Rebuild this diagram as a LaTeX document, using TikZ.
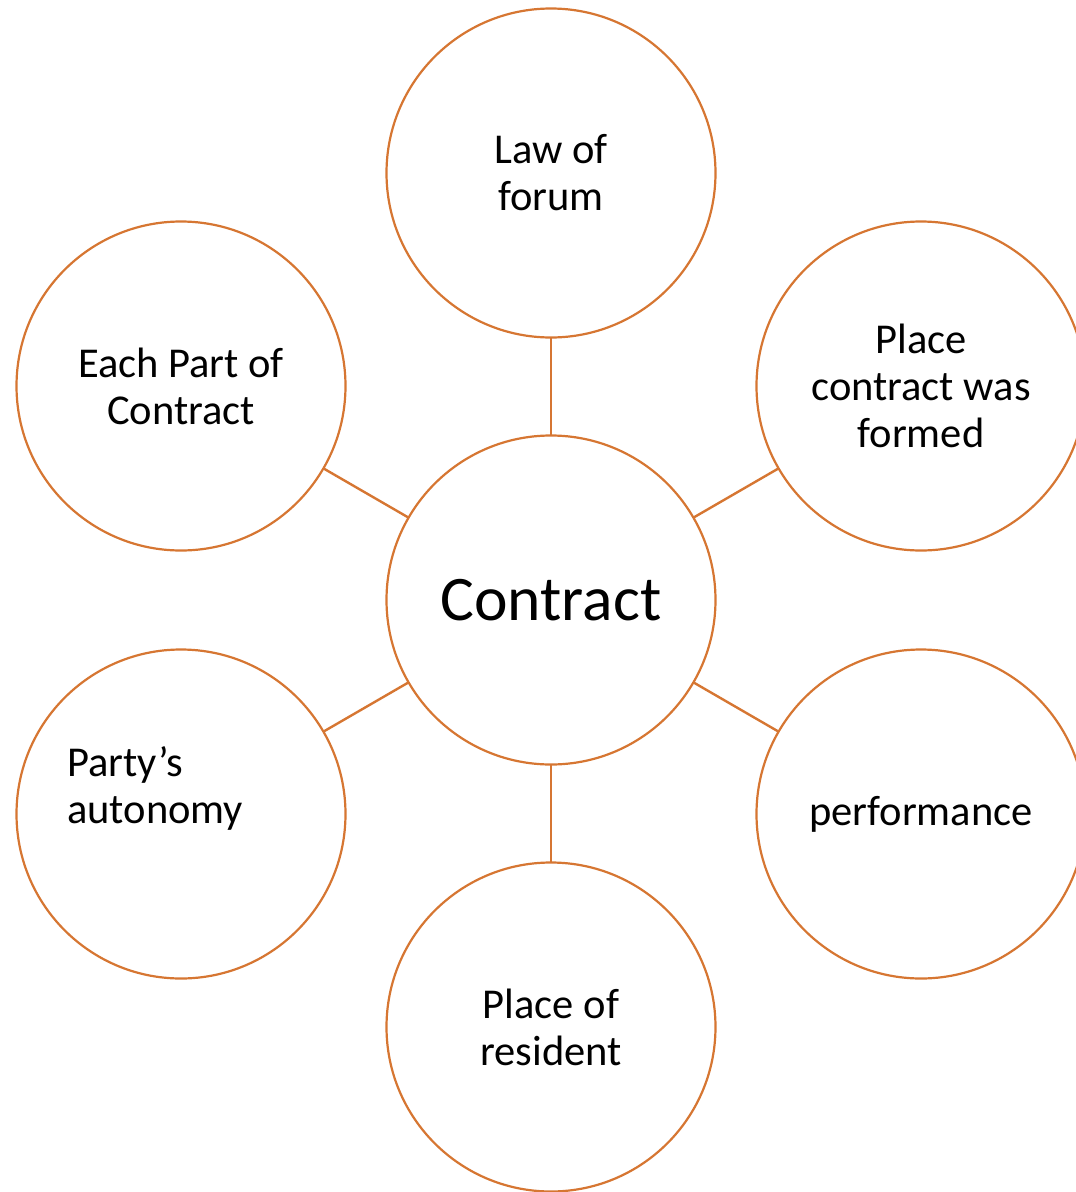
\documentclass[tikz,border=0pt]{standalone}
\usepackage{fontspec}
\setmainfont{Carlito}
\definecolor{ring}{RGB}{214,118,50}
\begin{document}
\begin{tikzpicture}[x=1pt,y=-1pt,
  bubble/.style={circle,draw=ring,line width=2.2pt,minimum size=329pt,inner sep=0pt,outer sep=0pt,fill=white,
     font=\fontsize{42.5}{47}\selectfont,align=center},
  link/.style={draw=ring,line width=2.4pt},
  txt/.style={font=\fontsize{42.5}{47}\selectfont,inner sep=0pt}]
\useasboundingbox (0,0) rectangle (1076,1192);
\clip (0,0) rectangle (1076,1192);
\node[bubble,font=\fontsize{63.5}{70}\selectfont] (c) at (551,600) {Contract};
\node[bubble] (t) at (551,173) {Law of\\forum};
\node[bubble] (tl) at (181,386) {Each Part of\\Contract};
\node[bubble] (tr) at (921,386) {Place\\contract was\\formed};
\node[bubble] (bl) at (181,814) {};
\node[bubble] (br) at (921,814) {performance};
\node[bubble] (b) at (551,1027) {Place of\\resident};
\node[txt,anchor=west,align=left] (pa) at (67,788) {Party’s\\autonomy};
\draw[link] (c) -- (t);
\draw[link] (c) -- (tl);
\draw[link] (c) -- (tr);
\draw[link] (c) -- (bl);
\draw[link] (c) -- (br);
\draw[link] (c) -- (b);
\end{tikzpicture}
\end{document}
